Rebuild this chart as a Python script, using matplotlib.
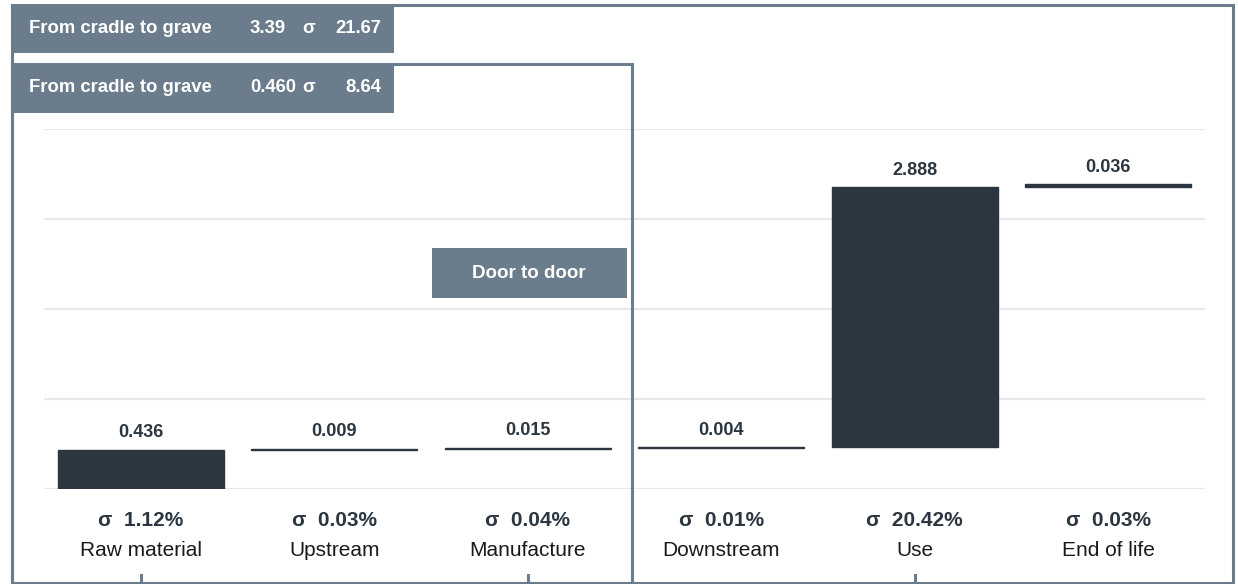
import matplotlib
matplotlib.use("Agg")
import matplotlib.pyplot as plt
from matplotlib.patches import Rectangle
from matplotlib.lines import Line2D
from matplotlib.transforms import blended_transform_factory
import numpy as np

plt.rcParams["font.family"] = ["Liberation Sans", "DejaVu Sans"]

# Life-cycle stages and their contribution
stages = ["Raw material", "Upstream", "Manufacture", "Downstream", "Use", "End of life"]
impacts = [0.436, 0.009, 0.015, 0.004, 2.888, 0.036]
shares = [1.12, 0.03, 0.04, 0.01, 20.42, 0.03]
header_labels = ["From cradle to grave", "From cradle to grave"]
header_totals = ["3.39", "0.460"]
header_shares = ["21.67", "8.64"]
inner_label = "Door to door"

SLATE = "#6b7d8c"
DARK = "#2b3640"
GRID = "#e8e8e8"

W, H = 1238, 584
fig = plt.figure(figsize=(W / 100, H / 100), dpi=100)
fig.patch.set_facecolor("white")


def fx(px):
    return px / W


def fy(py):
    return 1 - py / H


# Plot area
ax = fig.add_axes([fx(44), fy(489), fx(1205) - fx(44), fy(129) - fy(489)])
ax.set_xlim(-0.5, 5.5)
ax.set_ylim(0, 4)
for s in ax.spines.values():
    s.set_visible(False)
ax.set_xticks([])
ax.set_yticks(np.arange(0, 5))
ax.tick_params(axis="y", length=0, labelleft=False)
ax.yaxis.grid(True, color=GRID, linewidth=1.6)
ax.set_axisbelow(True)

x = np.arange(len(stages))
bottoms = np.concatenate([[0], np.cumsum(impacts)[:-1]])
ax.bar(x, impacts, bottom=bottoms, width=0.86, color=DARK,
       edgecolor=DARK, linewidth=1.0, zorder=3)

for xi, b, v in zip(x, bottoms, impacts):
    ax.annotate(f"{v:.3f}", (xi, b + v), xytext=(0, 9), textcoords="offset points",
                ha="center", va="baseline", fontsize=13, fontweight="bold",
                color=DARK, zorder=4)

# Share and stage labels under the baseline
below = blended_transform_factory(ax.transData, fig.transFigure)
for xi, name, sh in zip(x, stages, shares):
    fig.text(xi, fy(520), f"σ  {sh:.2f}%", transform=below, ha="center", va="center",
             fontsize=15, fontweight="bold", color=DARK)
    fig.text(xi, fy(550), name, transform=below, ha="center", va="center",
             fontsize=15, color="#1a1a1a")

# Small ticks along the bottom edge
for xi in [0, 2, 4]:
    fig.add_artist(Line2D([xi, xi], [fy(575), fy(583)], transform=below,
                          color=SLATE, linewidth=2.2))


# Frames for the two system boundaries
def frame(l, t, r, b):
    fig.add_artist(Rectangle((fx(l), fy(b)), fx(r) - fx(l), fy(t) - fy(b),
                             fill=False, edgecolor=SLATE, linewidth=2.2, zorder=5))


frame(12, 5, 1233, 583)
frame(12, 64, 632, 583)


def label_box(l, t, r, b):
    fig.add_artist(Rectangle((fx(l), fy(b)), fx(r) - fx(l), fy(t) - fy(b),
                             facecolor=SLATE, edgecolor="none", zorder=6))


# Header boxes with totals
for (t, b), lab, tot, sh in zip([(4, 53), (63, 113)], header_labels, header_totals, header_shares):
    label_box(11, t, 394, b)
    yc = fy((t + b) / 2)
    kw = dict(va="center", fontsize=13.3, fontweight="bold", color="white", zorder=7)
    fig.text(fx(29), yc, lab, ha="left", **kw)
    fig.text(fx(250), yc, tot, ha="left", **kw)
    fig.text(fx(309), yc, "σ", ha="center", **kw)
    fig.text(fx(381), yc, sh, ha="right", **kw)

# Gate-to-gate marker
label_box(432, 248, 627, 298)
fig.text(fx(529), fy(273), inner_label, ha="center", va="center",
         fontsize=13.5, fontweight="bold", color="white", zorder=7)

fig.savefig("out.png", dpi=100, facecolor="white")
